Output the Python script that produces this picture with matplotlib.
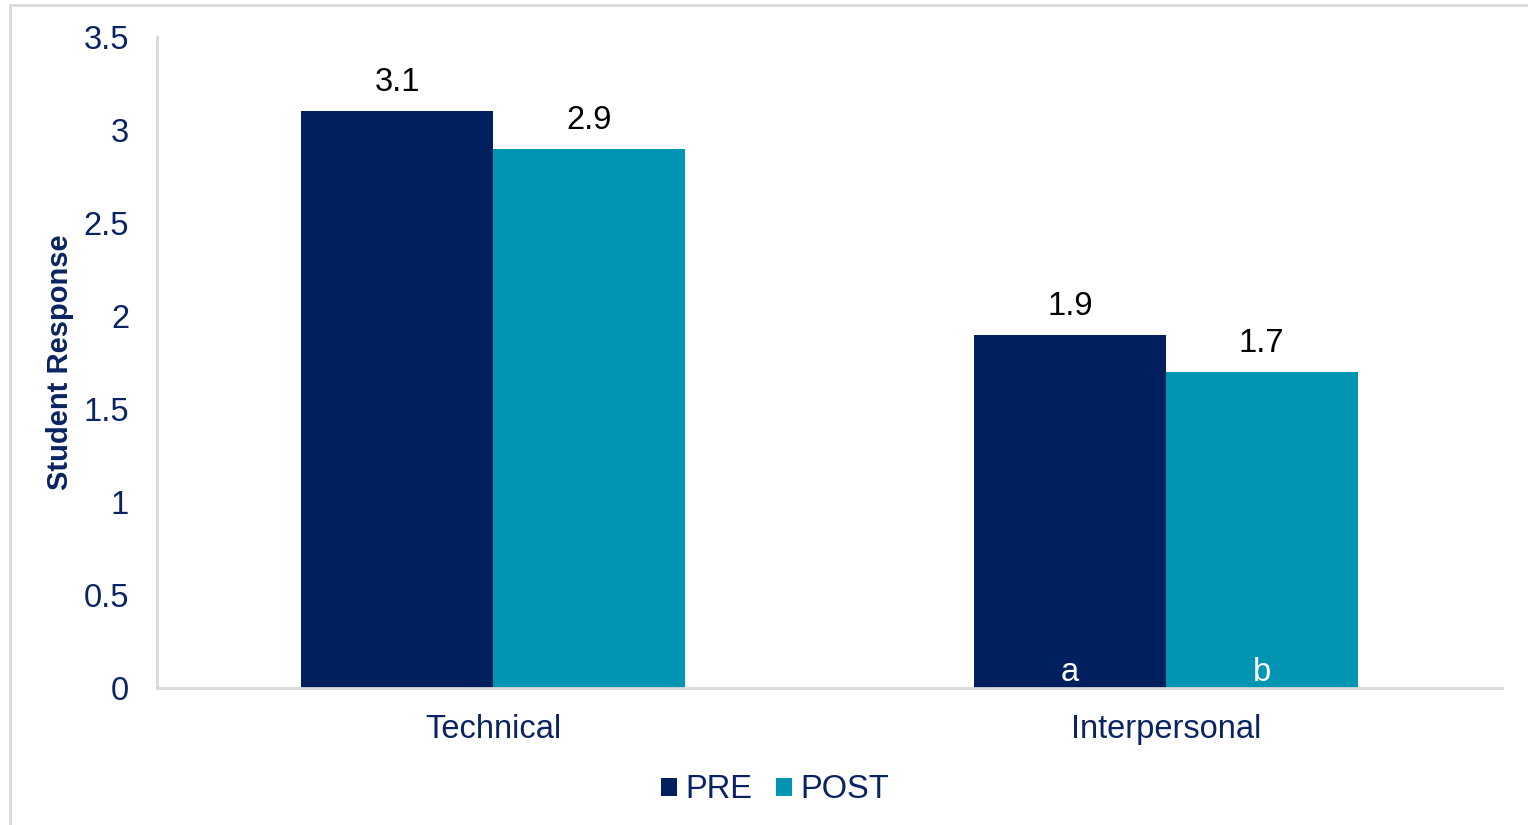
import matplotlib.pyplot as plt
import numpy as np
from matplotlib.patches import Rectangle

plt.rcParams['font.family'] = ['Liberation Sans', 'DejaVu Sans']

categories = ["Technical", "Interpersonal"]
pre = [3.1, 1.9]
post = [2.9, 1.7]
pre_notes = ["", "a"]
post_notes = ["", "b"]
yticks = [0, 0.5, 1, 1.5, 2, 2.5, 3, 3.5]

navy = "#001F5F"
teal = "#0095B3"
text_navy = "#0A2463"
grey = "#D9D9D9"
fs = 23.5

fig = plt.figure(figsize=(15.28, 8.25), dpi=100)
ax = fig.add_axes([157 / 1528, 1 - 688 / 825, (1502 - 157) / 1528, (688 - 37) / 825])

# outer chart frame
fig.patches.append(Rectangle((10 / 1528, -0.05), 1.1, 1 - 5 / 825 + 0.05,
                             transform=fig.transFigure, fill=False,
                             edgecolor=grey, linewidth=2))

x = np.arange(len(categories))
w = 0.2855
b1 = ax.bar(x - w / 2, pre, w, color=navy, label="PRE")
b2 = ax.bar(x + w / 2, post, w, color=teal, label="POST")

for bars, vals, notes in [(b1, pre, pre_notes), (b2, post, post_notes)]:
    for r, v, n in zip(bars, vals, notes):
        cx = r.get_x() + r.get_width() / 2
        ax.text(cx, v + 0.07, f"{v:.1f}", ha="center", va="bottom",
                fontsize=fs, color="black")
        if n:
            ax.text(cx, 0.0, n, ha="center", va="bottom", fontsize=fs,
                    color="white")

ax.set_xlim(-0.5, 1.5)
ax.set_ylim(0, 3.5)
ax.set_yticks(yticks)
ax.set_yticklabels([f"{t:g}" for t in yticks])
ax.set_xticks(x)
ax.set_xticklabels(categories)
ax.tick_params(axis="both", length=0, labelsize=fs, labelcolor=text_navy)
ax.tick_params(axis="y", pad=20)
ax.tick_params(axis="x", pad=19)

for s in ["top", "right"]:
    ax.spines[s].set_visible(False)
for s in ["left", "bottom"]:
    ax.spines[s].set_color(grey)
    ax.spines[s].set_linewidth(2)

ax.set_ylabel("Student Response", fontsize=21, fontweight="bold",
              color=text_navy)
ax.yaxis.set_label_coords(-83 / 1345, 0.5)

ax.legend(loc="center", bbox_to_anchor=((775 - 157) / 1345, -(790 - 688) / 651),
          ncol=2, frameon=False, fontsize=fs, labelcolor=text_navy,
          handlelength=0.5, handleheight=0.5, handletextpad=0.25,
          columnspacing=0.72)

fig.savefig("out.png", dpi=100)
